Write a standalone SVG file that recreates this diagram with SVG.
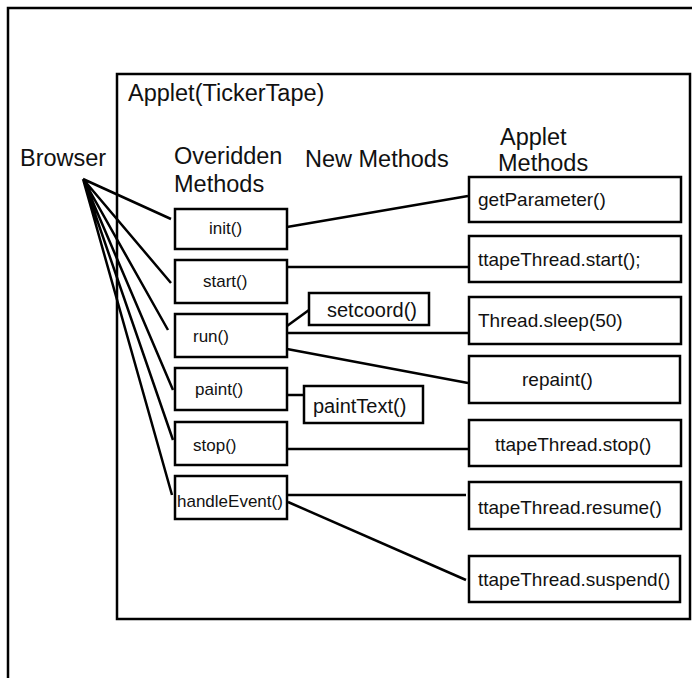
<svg xmlns="http://www.w3.org/2000/svg" width="692" height="678" viewBox="0 0 692 678">
<style>
.frame{fill:none;stroke:#000;stroke-width:2.5}
.box{fill:#fff;stroke:#000;stroke-width:2.5}
.ln{fill:none;stroke:#000;stroke-width:2.5}
text{font-family:"Liberation Sans",Arial,sans-serif;fill:#111}
.h{font-size:23.5px}
.m{font-size:17px}
.r{font-size:19px}
.n{font-size:20px}
</style>
<rect width="692" height="678" fill="#fff"/>
<g id="outer"><path class="frame" d="M8,678 V8 H692"/></g>
<g id="applet">
<rect class="frame" x="117" y="74" width="573" height="545"/>
<text class="h" x="128" y="101">Applet(TickerTape)</text>
</g>
<g id="labels">
<text class="h" x="20" y="166">Browser</text>
<text class="h" x="174" y="164">Overidden</text>
<text class="h" x="174" y="192">Methods</text>
<text class="h" x="305" y="167">New Methods</text>
<text class="h" x="500" y="145">Applet</text>
<text class="h" x="498" y="171">Methods</text>
</g>
<g id="connectors">
<path class="ln" d="M83,179 L171,219 M83,179 L171,283 M83,179 L168,330 M83,179 L173,390 M83,179 L173,440 M83,179 L172,495"/>
<path class="ln" d="M287,227 L468,196"/>
<path class="ln" d="M287,267 H469"/>
<path class="ln" d="M287,326 L309,310"/>
<path class="ln" d="M287,333 H469"/>
<path class="ln" d="M287,349 L468,383"/>
<path class="ln" d="M287,395 H304"/>
<path class="ln" d="M287,449 H469"/>
<path class="ln" d="M287,495 H466"/>
<path class="ln" d="M288,502 L466,580"/>
</g>
<g id="init"><rect class="box" x="175" y="209" width="112" height="40"/><text class="m" x="209" y="234">init()</text></g>
<g id="start"><rect class="box" x="175" y="260" width="112" height="43"/><text class="m" x="203" y="287">start()</text></g>
<g id="run"><rect class="box" x="175" y="314" width="112" height="43"/><text class="m" x="193" y="342">run()</text></g>
<g id="paint"><rect class="box" x="175" y="368" width="112" height="42"/><text class="m" x="195" y="395">paint()</text></g>
<g id="stop"><rect class="box" x="175" y="422" width="112" height="43"/><text class="m" x="193" y="451">stop()</text></g>
<g id="handleEvent"><rect class="box" x="175" y="476" width="112" height="43"/><text class="m" x="177" y="507">handleEvent()</text></g>
<g id="setcoord"><rect class="box" x="309" y="293" width="120" height="32"/><text class="n" x="327" y="317">setcoord()</text></g>
<g id="paintText"><rect class="box" x="304" y="386" width="119" height="37"/><text class="n" x="313" y="413">paintText()</text></g>
<g id="getParameter"><rect class="box" x="469" y="177" width="212" height="45"/><text class="r" x="478" y="206">getParameter()</text></g>
<g id="ttapeStart"><rect class="box" x="469" y="236" width="212" height="46"/><text class="r" x="478" y="266">ttapeThread.start();</text></g>
<g id="sleep"><rect class="box" x="469" y="297" width="212" height="47"/><text class="r" x="478" y="327">Thread.sleep(50)</text></g>
<g id="repaint"><rect class="box" x="469" y="356" width="211" height="47"/><text class="r" x="522" y="386">repaint()</text></g>
<g id="ttapeStop"><rect class="box" x="469" y="420" width="212" height="46"/><text class="r" x="495" y="451">ttapeThread.stop()</text></g>
<g id="resume"><rect class="box" x="469" y="482" width="212" height="47"/><text class="r" x="478" y="514">ttapeThread.resume()</text></g>
<g id="suspend"><rect class="box" x="469" y="556" width="211" height="46"/><text class="r" x="478" y="586">ttapeThread.suspend()</text></g>
</svg>
